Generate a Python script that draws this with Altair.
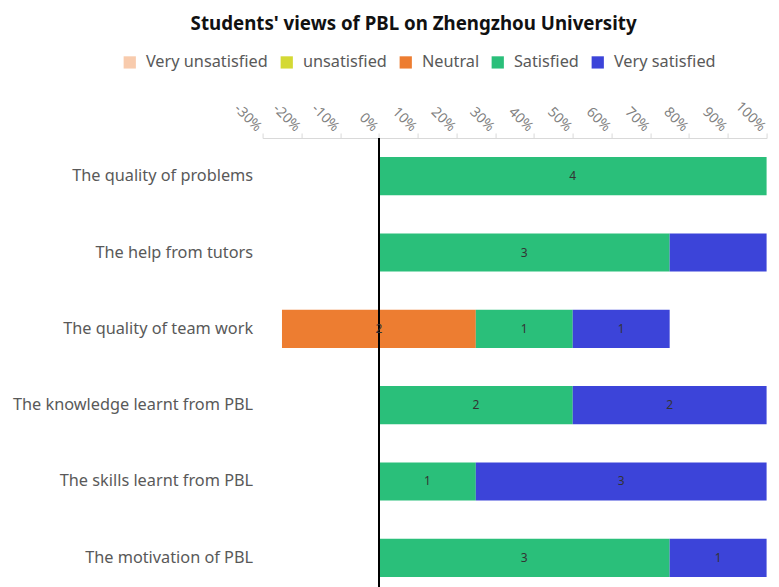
import altair as alt
import pandas as pd

title_text = "Students' views of PBL on Zhengzhou University"
questions = [
    "The quality of problems",
    "The help from tutors",
    "The quality of team work",
    "The knowledge learnt from PBL",
    "The skills learnt from PBL",
    "The motivation of PBL",
]
levels = ["Very unsatisfied", "unsatisfied", "Neutral", "Satisfied", "Very satisfied"]
colors = ["#F8CBAD", "#D4D934", "#ED7D31", "#2ABF7A", "#3C44D9"]

very_unsat = [0, 0, 0, 0, 0, 0]
unsat = [0, 0, 0, 0, 0, 0]
neutral = [0, 0, 2, 0, 0, 0]
satisfied = [4, 3, 1, 2, 1, 3]
very_sat = [0, 1, 1, 2, 3, 1]
# whether the count label is drawn in the reference (per question, per level)
label_shown = [
    [1, 1, 1, 1, 1],
    [1, 1, 1, 1, 0],
    [1, 1, 1, 1, 1],
    [1, 1, 1, 1, 1],
    [1, 1, 1, 1, 1],
    [1, 1, 1, 1, 1],
]
ticks = [-30, -20, -10, 0, 10, 20, 30, 40, 50, 60, 70, 80, 90, 100]

rows = []
for i, q in enumerate(questions):
    counts = [very_unsat[i], unsat[i], neutral[i], satisfied[i], very_sat[i]]
    total = sum(counts)
    start = -(counts[0] + counts[1] + counts[2] / 2) / total * 100
    for j, lv in enumerate(levels):
        w = counts[j] / total * 100
        if counts[j] > 0:
            rows.append({
                "question": q, "level": lv, "count": counts[j],
                "start": start, "end": start + w, "mid": start + w / 2,
                "show": label_shown[i][j],
            })
        start += w
df = pd.DataFrame(rows)

font = "Noto Sans"
xscale = alt.Scale(domain=[-30, 100], nice=False, zero=False)
yscale = alt.Scale(paddingInner=0.5, paddingOuter=0.25)
xaxis = alt.Axis(orient="top", values=ticks, labelExpr="datum.value + '%'",
                 grid=False, title=None, domainColor="#d9d9d9", tickColor="#d9d9d9",
                 labelAngle=45, labelAlign="right", labelBaseline="middle",
                 labelPadding=4, labelOverlap=False, labelBound=False, labelFlush=False,
                 labelOffset=-4,
                 labelColor="#7f7f7f", labelFontSize=14, labelFont=font, tickSize=5)
yaxis = alt.Axis(title=None, domain=False, ticks=False, labelFontSize=16.3,
                 labelColor="#595959", labelFont=font, labelPadding=10, labelLimit=300)

bars = alt.Chart(df).mark_bar().encode(
    x=alt.X("start:Q", scale=xscale, axis=xaxis),
    x2="end:Q",
    y=alt.Y("question:N", sort=questions, scale=yscale, axis=yaxis),
    color=alt.Color("level:N", scale=alt.Scale(domain=levels, range=colors),
                    legend=alt.Legend(title=None, orient="none", direction="horizontal",
                                      columns=5, legendX=-141, legendY=-84,
                                      symbolType="square", symbolSize=150,
                                      symbolStrokeWidth=0, labelFontSize=16.3,
                                      labelColor="#595959", labelFont=font,
                                      columnPadding=10, labelOffset=8, labelLimit=300)),
)

labels = alt.Chart(df).transform_filter("datum.show == 1").mark_text(
    fontSize=12, color="#333333", font=font
).encode(
    x=alt.X("mid:Q", scale=xscale, axis=xaxis),
    y=alt.Y("question:N", sort=questions, scale=yscale, axis=yaxis),
    text="count:Q",
)

zero_rule = alt.Chart(df).mark_rule(color="#000000", strokeWidth=1).encode(
    x=alt.X(datum=0, scale=xscale, axis=xaxis)
)

title = alt.Chart(pd.DataFrame({"t": [title_text]})).mark_text(
    fontSize=18.7, fontWeight="bold", font=font, color="#111111", align="center",
    baseline="middle"
).encode(text="t:N", x=alt.value(151), y=alt.value(-114))

chart = alt.layer(bars, zero_rule, labels, title).properties(
    width=504, height=458,
    autosize=alt.AutoSizeParams(type="none"),
    padding={"left": 254.6, "top": 130, "right": 4, "bottom": 10},
).configure_view(stroke=None)

chart.save("out.html", embed_options={"renderer": "svg", "actions": False})
